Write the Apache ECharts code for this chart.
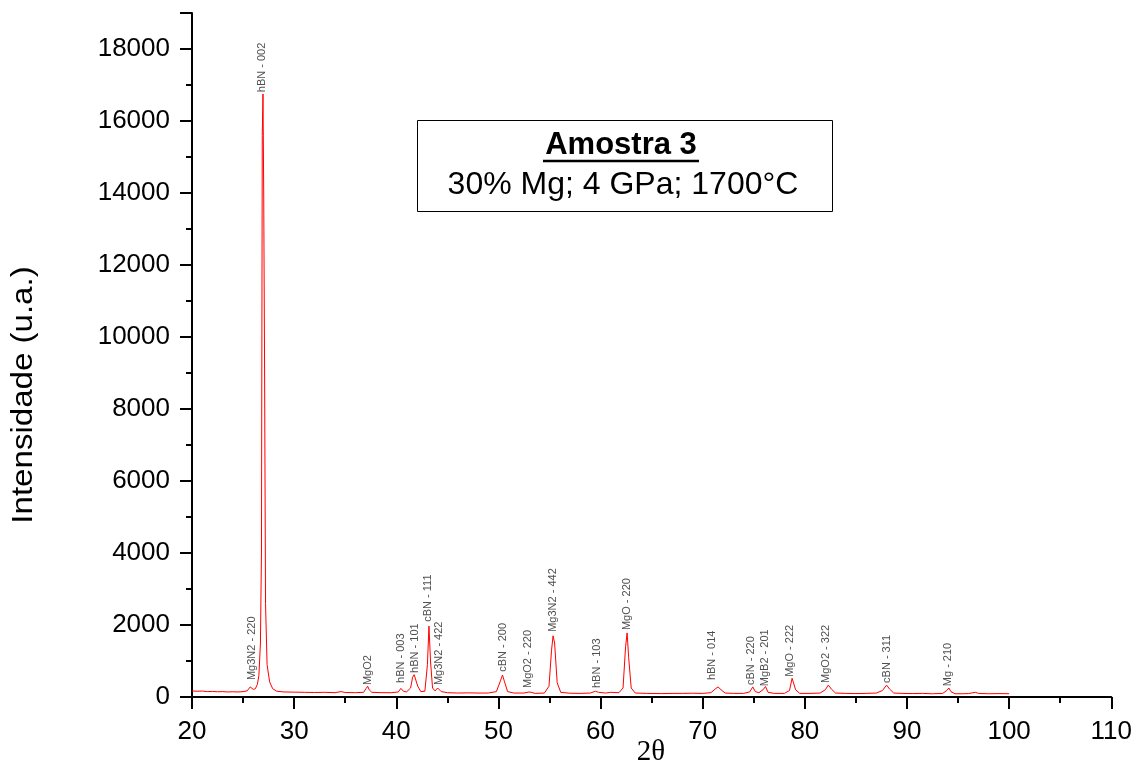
<!DOCTYPE html>
<html>
<head>
<meta charset="utf-8">
<script src="https://cdn.jsdelivr.net/npm/echarts@6/dist/echarts.min.js"></script>
<style>
  html, body { margin: 0; padding: 0; background: #fff; }
  #chart { width: 1135px; height: 764px; }
</style>
</head>
<body>
<div id="chart"></div>
<script>
// difratograma (2θ, intensidade)
const twoTheta = [
  20.0, 20.5, 21.0, 21.5, 22.0, 22.5, 23.0, 23.5, 24.0, 24.5, 25.0, 25.4, 25.7, 26.0, 26.2, 26.4, 26.55, 26.7, 26.8, 26.88,
  26.95, 27.02, 27.1, 27.2, 27.35, 27.6, 27.9, 28.3, 29.0, 30.0, 31.0, 32.0, 33.0, 34.0, 34.6, 35.0, 36.0, 36.8, 37.05, 37.2,
  37.35, 37.6, 38.5, 39.5, 40.2, 40.45, 40.55, 40.7, 41.0, 41.4, 41.6, 41.75, 41.9, 42.1, 42.4, 42.8, 43.05, 43.2, 43.35, 43.55,
  43.8, 44.05, 44.15, 44.4, 45.0, 46.0, 47.0, 48.0, 49.0, 49.8, 50.2, 50.4, 50.6, 50.9, 51.5, 52.5, 53.0, 53.2, 53.6, 54.5,
  54.95, 55.2, 55.35, 55.5, 55.75, 56.1, 57.0, 58.0, 59.0, 59.5, 59.6, 59.8, 60.5, 61.0, 61.3, 61.8, 62.2, 62.45, 62.6, 62.75,
  63.0, 63.4, 64.5, 66.0, 67.0, 68.0, 69.0, 70.0, 70.8, 71.3, 71.5, 71.8, 72.2, 73.0, 74.0, 74.6, 74.9, 75.15, 75.5, 75.9,
  76.15, 76.4, 77.0, 78.0, 78.5, 78.75, 78.85, 79.1, 79.5, 80.5, 81.5, 82.0, 82.3, 82.6, 83.0, 84.0, 85.0, 86.0, 87.0, 87.6,
  88.0, 88.3, 88.7, 89.5, 90.5, 91.5, 92.5, 93.5, 93.9, 94.1, 94.3, 94.7, 95.5, 96.0, 96.7, 97.0, 98.0, 99.0, 100.0
];
const intensity = [
  170, 160, 165, 150, 155, 145, 150, 140, 145, 140, 150, 170, 280, 210, 230, 350, 600, 1500, 4000, 15600,
  16750, 14000, 9500, 2600, 900, 420, 230, 160, 140, 135, 130, 125, 130, 120, 150, 125, 120, 130, 240, 300,
  200, 130, 120, 120, 140, 240, 280, 160, 140, 250, 550, 620, 600, 300, 150, 160, 900, 1970, 1000, 250,
  170, 250, 240, 150, 120, 110, 115, 110, 110, 150, 450, 610, 420, 150, 110, 110, 140, 130, 100, 110,
  300, 1300, 1700, 1500, 400, 130, 105, 100, 110, 160, 170, 130, 110, 130, 125, 120, 250, 1400, 1780, 1100,
  250, 110, 100, 95, 100, 100, 105, 100, 120, 240, 280, 200, 110, 100, 100, 140, 280, 150, 120, 200,
  290, 130, 100, 100, 180, 520, 500, 200, 100, 100, 110, 200, 330, 220, 110, 100, 95, 100, 110, 180,
  330, 220, 110, 100, 95, 100, 90, 100, 180, 250, 150, 90, 90, 95, 130, 100, 90, 95, 90
];

// identificação dos picos
const peakNames = [
  'Mg3N2 - 220', 'hBN - 002', 'MgO2', 'hBN - 003', 'hBN - 101', 'cBN - 111', 'Mg3N2 - 422', 'cBN - 200',
  'MgO2 - 220', 'Mg3N2 - 442', 'hBN - 103', 'MgO - 220', 'hBN - 014', 'cBN - 220', 'MgB2 - 201', 'MgO - 222',
  'MgO2 - 322', 'cBN - 311', 'Mg - 210'
];
const peakPos = [25.85, 26.85, 37.2, 40.5, 41.8, 43.1, 44.15, 50.4, 52.9, 55.3, 59.6, 62.55, 70.9, 74.7, 76.1, 78.5, 82.1, 88.0, 94.05];
const peakLabelY = [470, 16800, 330, 390, 670, 2090, 330, 700, 250, 1810, 250, 1860, 470, 330, 300, 560, 390, 390, 300];

const xTicks = { min: 20, max: 110, interval: 10 };
const yTicks = { min: 0, max: 19000, interval: 2000 };

const chart = echarts.init(document.getElementById('chart'));

const sans = 'Liberation Sans, Arial, sans-serif';
const axisFont = { color: '#000', fontSize: 26, fontFamily: sans };

const option = {
  backgroundColor: '#fff',
  animation: false,
  grid: { left: 192, right: 23, top: 13, bottom: 67 },
  xAxis: {
    type: 'value',
    min: xTicks.min, max: xTicks.max, interval: xTicks.interval,
    axisLine: { show: true, onZero: false, lineStyle: { color: '#000', width: 2 } },
    axisTick: { show: true, length: 12, lineStyle: { color: '#000', width: 2 } },
    minorTick: { show: true, splitNumber: 2, length: 6, lineStyle: { color: '#000', width: 2 } },
    splitLine: { show: false },
    axisLabel: { ...axisFont, margin: 22 }
  },
  yAxis: {
    type: 'value',
    min: yTicks.min, max: yTicks.max,
    interval: 2000,
    axisLine: { show: true, lineStyle: { color: '#000', width: 2 } },
    axisTick: { show: true, length: 12, lineStyle: { color: '#000', width: 2 } },
    minorTick: { show: true, splitNumber: 2, length: 6, lineStyle: { color: '#000', width: 2 } },
    splitLine: { show: false },
    axisLabel: {
      ...axisFont, margin: 22,
      formatter: v => (v % 2000 === 0 && v <= 18000 ? String(v) : '')
    }
  },
  series: [
    {
      type: 'line',
      data: twoTheta.map((t, i) => [t, intensity[i]]),
      showSymbol: false,
      symbol: 'none',
      lineStyle: { color: '#ff0000', width: 1 },
      silent: true
    },
    {
      type: 'scatter',
      data: peakPos.map((p, i) => ({ value: [p, peakLabelY[i]], name: peakNames[i] })),
      symbolSize: 0,
      silent: true,
      label: {
        show: true,
        position: 'inside',
        rotate: 90,
        align: 'left',
        verticalAlign: 'middle',
        formatter: p => p.name,
        color: '#222',
        fontSize: 11,
        fontFamily: sans
      }
    }
  ],
  graphic: [
    {
      type: 'rect',
      shape: { x: 417.5, y: 120.5, width: 415, height: 91 },
      style: { fill: '#fff', stroke: '#000', lineWidth: 1 }
    },
    {
      type: 'text',
      x: 621, y: 145,
      style: {
        text: 'Amostra 3', fill: '#000', fontSize: 31, fontWeight: 'bold',
        fontFamily: sans, align: 'center', verticalAlign: 'middle'
      }
    },
    {
      type: 'line',
      shape: { x1: 543, y1: 161, x2: 699, y2: 161 },
      style: { stroke: '#000', lineWidth: 2.5 }
    },
    {
      type: 'text',
      x: 623, y: 185,
      style: {
        text: '30% Mg; 4 GPa; 1700°C', fill: '#000', fontSize: 32,
        fontFamily: sans, align: 'center', verticalAlign: 'middle'
      }
    },
    {
      type: 'text',
      x: 24, y: 395, rotation: Math.PI / 2, scaleX: 1.14,
      style: {
        text: 'Intensidade (u.a.)', fill: '#000', fontSize: 29,
        fontFamily: sans, align: 'center', verticalAlign: 'middle'
      }
    },
    {
      type: 'text',
      x: 651, y: 752,
      style: {
        text: '2θ', fill: '#000', fontSize: 29,
        fontFamily: 'Liberation Serif, Times New Roman, serif', align: 'center', verticalAlign: 'middle'
      }
    }
  ]
};

chart.setOption(option);
</script>
</body>
</html>
